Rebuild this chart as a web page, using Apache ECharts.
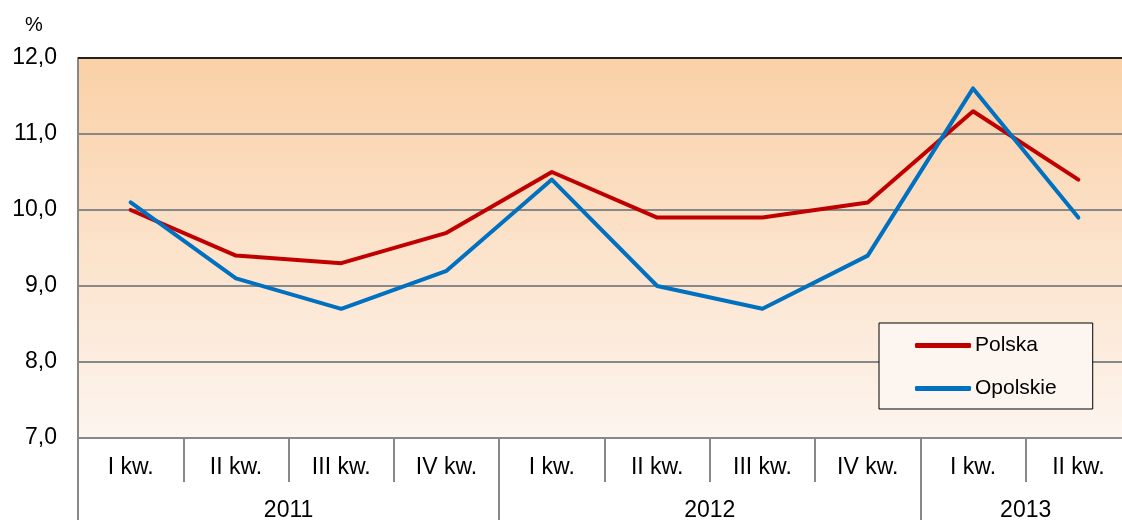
<!DOCTYPE html>
<html><head><meta charset="utf-8">
<script src="https://cdn.jsdelivr.net/npm/echarts@6/dist/echarts.min.js"></script>
<style>html,body{margin:0;padding:0;background:#fff;overflow:hidden}#c{width:1122px;height:520px}</style>
</head><body><div id="c"></div>
<script>
const quarters = ['I kw.','II kw.','III kw.','IV kw.','I kw.','II kw.','III kw.','IV kw.','I kw.','II kw.'];
const years = ['2011','2012','2013'];
const yearStartIdx = [0,4,8];
const polska = [10.0, 9.4, 9.3, 9.7, 10.5, 9.9, 9.9, 10.1, 11.3, 10.4];
const opolskie = [10.1, 9.1, 8.7, 9.2, 10.4, 9.0, 8.7, 9.4, 11.6, 9.9];
const yTicks = [7, 8, 9, 10, 11, 12];

// half-step boundary axis for year row
const n = quarters.length;
const yearAxis = new Array(2*n+1).fill('');
years.forEach((y,i)=>{
  const s = yearStartIdx[i];
  const e = i+1 < years.length ? yearStartIdx[i+1] : n;
  yearAxis[s+e] = y;
});
const sepIdx = yearStartIdx.map(s=>2*s);

const font = 'Liberation Sans, Arial, sans-serif';
const chart = echarts.init(document.getElementById('c'));
chart.setOption({
  animation:false,
  title:{text:'%', left:25, top:15, padding:0, textStyle:{fontFamily:font,fontSize:20,fontWeight:'normal',color:'#000'}},
  grid:{left:78, right:-9, top:58, bottom:82, show:true, borderWidth:0, outerBoundsMode:'none',
    backgroundColor:{type:'linear',x:0,y:0,x2:0,y2:1,colorStops:[{offset:0,color:'#fad0a6'},{offset:1,color:'#fdf5ef'}]}},
  legend:{orient:'vertical', left:879, top:323, padding:[12,36,10,36],
    backgroundColor:'#fdf5ef', borderColor:'#000', borderWidth:1,
    itemWidth:56, itemHeight:5, itemGap:22, icon:'roundRect',
    textStyle:{fontFamily:font,fontSize:21,color:'#000',padding:[3,0,0,-1]},
    data:['Polska','Opolskie']},
  xAxis:[{
    type:'category', data:quarters, position:'bottom', boundaryGap:true,
    axisLine:{show:true,lineStyle:{color:'#888',width:2}},
    axisTick:{show:true,interval:0,length:44,lineStyle:{color:'#888',width:2}},
    axisLabel:{interval:0,margin:18,fontFamily:font,fontSize:23,color:'#000'},
    splitLine:{show:false}
  },{
    type:'category', data:yearAxis, position:'bottom', boundaryGap:false,
    axisLine:{show:false},
    axisTick:{show:true,length:82,interval:(i)=>sepIdx.includes(i),lineStyle:{color:'#888',width:2}},
    axisLabel:{interval:0,margin:61,fontFamily:font,fontSize:23,color:'#000'},
    splitLine:{show:false}
  }],
  yAxis:{type:'value', min:yTicks[0], max:yTicks[yTicks.length-1], interval:1,
    axisLine:{show:true,lineStyle:{color:'#888',width:2}},
    axisTick:{show:false},
    axisLabel:{margin:21,fontFamily:font,fontSize:23,color:'#000',formatter:v=>v.toFixed(1).replace('.',',')},
    splitLine:{show:true,lineStyle:{color:'#888',width:2}}
  },
  series:[
    {name:'Polska',type:'line',data:polska,showSymbol:false,symbol:'none',lineStyle:{color:'#c00000',width:4,cap:'round',join:'round'},itemStyle:{color:'#c00000'},z:3},
    {name:'Opolskie',type:'line',data:opolskie,showSymbol:false,symbol:'none',lineStyle:{color:'#0070c0',width:4,cap:'round',join:'round'},itemStyle:{color:'#0070c0'},z:4}
  ]
});
// dark top border of the plot area
chart.setOption({graphic:[{type:'line',shape:{x1:78,y1:58,x2:1122,y2:58},style:{stroke:'#222',lineWidth:2},z:10}]});
</script></body></html>
